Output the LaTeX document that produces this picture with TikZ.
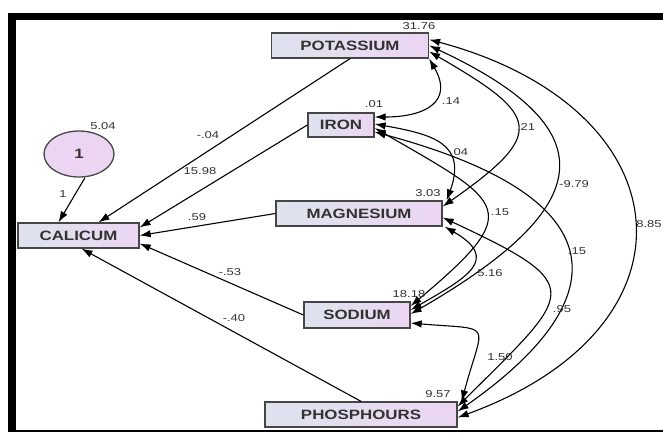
\documentclass[tikz,border=0pt]{standalone}
\usepackage{fontspec}
\setmainfont{Liberation Sans}
\newfontfamily\boxfont[FakeStretch=1.25]{Liberation Sans}
\newfontfamily\numfont[FakeStretch=1.3]{Liberation Sans}
\usetikzlibrary{arrows.meta, shapes.geometric}
\definecolor{amosleft}{RGB}{222,227,238}
\definecolor{amosright}{RGB}{236,213,242}
\definecolor{amostext}{RGB}{50,50,50}
\definecolor{amosedge}{RGB}{70,70,70}

\begin{document}
\begin{tikzpicture}[x=1pt, y=1pt,
  var/.style={rectangle, draw=amosedge, line width=1.3pt, left color=amosleft, right color=amosright, minimum height=25pt, inner sep=0pt, font=\boxfont\bfseries\fontsize{13.5}{14}\selectfont, text=amostext},
  err/.style={ellipse, draw=amosedge, line width=1.3pt, fill=amosright, minimum width=70pt, minimum height=46pt, inner sep=0pt, font=\boxfont\bfseries\fontsize{13.5}{14}\selectfont, text=amostext},
  num/.style={font=\numfont\fontsize{10}{11}\selectfont, text=amostext, inner sep=0pt},
  reg/.style={-{Latex[length=11pt,width=7.5pt]}, line width=1.1pt},
  cov/.style={{Latex[length=11pt,width=7.5pt]}-{Latex[length=11pt,width=7.5pt]}, line width=1.1pt}
]
\useasboundingbox (0,0) rectangle (663,-432);
% frame
\fill[black] (8,-13) rectangle (663,-20);
\fill[black] (8,-13) rectangle (16,-432);
\fill[black] (8,-430) rectangle (663,-432);

\node[var, minimum width=157pt] (potassium) at (350,-45.5) {POTASSIUM};
\node[var, minimum width=66pt, minimum height=24pt] (iron) at (341,-125) {IRON};
\node[var, minimum width=166pt] (magnesium) at (359,-213.5) {MAGNESIUM};
\node[var, minimum width=121pt] (calicum) at (78.5,-235.5) {CALICUM};
\node[var, minimum width=106pt, minimum height=26pt] (sodium) at (357,-315) {SODIUM};
\node[var, minimum width=192pt] (phosphours) at (361,-414.5) {PHOSPHOURS};
\node[err] (e1) at (79,-154) {1};

% regression weights
\draw[reg] (potassium.south) -- ([xshift=20pt]calicum.north);
\draw[reg] (iron.west) -- ([yshift=8pt]calicum.east);
\draw[reg] (magnesium.west) -- (calicum.east);
\draw[reg] (sodium.west) -- ([yshift=-8pt]calicum.east);
\draw[reg] (phosphours.north) -- ([xshift=3pt]calicum.south);
\draw[reg] ([xshift=6pt]e1.south) -- ([xshift=-20pt]calicum.north);

% covariances
\draw[cov] ([yshift=6pt]potassium.east) to[out=-15, in=20, distance=266pt] ([yshift=-3pt]phosphours.east);
\draw[cov] (potassium.east) to[out=-25, in=30, distance=206pt] ([yshift=1pt]sodium.east);
\draw[cov] ([yshift=-6pt]potassium.east) to[out=-30, in=35, distance=128pt] ([yshift=7pt]magnesium.east);
\draw[cov] ([yshift=8pt]iron.east) to[out=0, in=-60, distance=50pt] (potassium.south east);
\draw[cov] ([yshift=1pt]iron.east) to[out=-10, in=70, distance=60pt] ([xshift=4pt]magnesium.north east);
\draw[cov] ([yshift=-3pt]iron.east) to[out=-30, in=40, distance=151pt] ([yshift=9pt]sodium.east);
\draw[cov] ([yshift=-7pt]iron.east) to[out=-15, in=35, out distance=260pt, in distance=190pt] ([yshift=3pt]phosphours.east);
\draw[cov] ([xshift=2pt]magnesium.south east) to[out=-30, in=30, distance=65pt] ([yshift=5pt]sodium.east);
\draw[cov] ([yshift=-4pt]magnesium.east) to[out=-25, in=45, distance=163pt] ([yshift=8pt]phosphours.east);
\draw[cov] ([yshift=-8pt]sodium.east) to[out=-5, in=75, distance=85pt] ([xshift=4pt]phosphours.north east);

% variances
\node[num] (vpotassium) at (419,-26) {31.76};
\node[num] (viron) at (374,-104) {.01};
\node[num] (vmagnesium) at (428,-193) {3.03};
\node[num] (vsodium) at (409,-294) {18.18};
\node[num] (vphosphours) at (438,-394) {9.57};
\node[num] (ve1) at (103,-126) {5.04};

% weights
\node[num] (we1) at (63,-194) {1};
\node[num] (wpotassium) at (208,-135) {-.04};
\node[num] (wiron) at (200,-171) {15.98};
\node[num] (wmagnesium) at (197,-217) {.59};
\node[num] (wsodium) at (230,-272) {-.53};
\node[num] (wphosphours) at (234,-318) {-.40};

% covariance values
\node[num] (cpi) at (451,-101) {.14};
\node[num] (cpm) at (526,-127) {.21};
\node[num] (cim) at (459,-152) {.04};
\node[num] (cps) at (574,-184) {-9.79};
\node[num] (cis) at (500,-212) {.15};
\node[num] (cpp) at (649,-224) {8.85};
\node[num] (cip) at (577,-251) {.15};
\node[num] (cms) at (490,-273) {5.16};
\node[num] (cmp) at (562,-309) {.95};
\node[num] (csp) at (500,-357) {1.50};
\end{tikzpicture}
\end{document}
